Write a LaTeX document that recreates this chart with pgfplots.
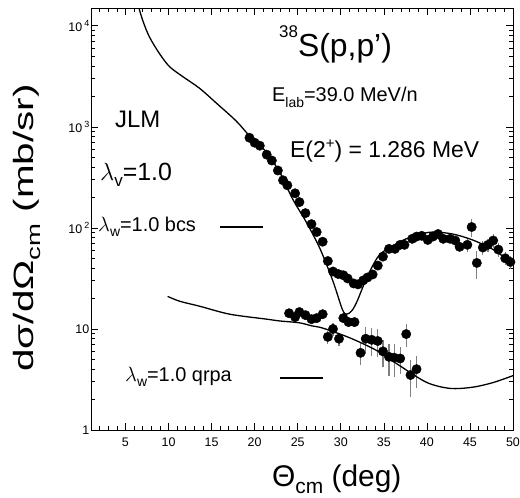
\documentclass[border=0pt]{standalone}
\usepackage{pgfplots}
\pgfplotsset{compat=1.18}
\usepackage{pgfplotstable}
\usepackage{fontspec}
\setmainfont{Liberation Sans}
\usepackage{graphicx}

\newcommand{\lsub}[3]{\raisebox{-#3}{\fontsize{#2}{#2}\selectfont #1}}
\newcommand{\lsup}[3]{\raisebox{#3}{\fontsize{#2}{#2}\selectfont #1}}

\pgfplotstableread{
x y e
19.4 780 0.06
20.0 697 0.06
20.6 651 0.06
21.4 531 0.06
22.0 464 0.06
22.7 370 0.06
23.3 296 0.06
23.8 264 0.06
24.7 220 0.06
25.2 180 0.06
25.9 140 0.06
26.6 109 0.06
27.2 91 0.06
27.9 73 0.06
28.5 47 0.06
29.1 37 0.06
29.7 35 0.06
30.3 34 0.06
30.8 31.6 0.06
31.5 28.2 0.06
32.0 27.6 0.06
32.6 30.2 0.06
33.1 32.3 0.06
33.7 34.6 0.06
34.3 42.4 0.06
34.9 52 0.06
35.6 62 0.06
36.3 62 0.06
36.9 68 0.06
37.4 68 0.06
38.3 78 0.06
38.8 82 0.06
39.4 83.5 0.06
40.1 76 0.08
40.7 82 0.08
41.3 87 0.08
41.9 78 0.08
42.7 78 0.08
43.3 75 0.1
43.8 65 0.12
44.7 68 0.15
45.2 102 0.2
45.8 45 0.3
46.5 64 0.15
47.1 68 0.15
47.7 75 0.15
48.3 61 0.15
49.1 50 0.15
49.7 46 0.15
}\upperdata

\pgfplotstableread{
x y e
24.0 14.3 0.08
24.7 13.1 0.08
25.2 14.7 0.08
25.9 13.7 0.08
26.6 12.5 0.08
27.2 12.8 0.08
27.9 14.0 0.08
28.5 8.35 0.15
29.1 10.0 0.15
29.8 8.0 0.15
30.3 12.8 0.1
30.9 11.7 0.1
31.6 11.7 0.1
32.3 5.8 0.25
32.9 8.0 0.3
33.6 7.8 0.3
34.3 7.6 0.3
34.9 6.0 0.3
35.6 5.3 0.35
36.2 5.2 0.35
36.9 5.1 0.3
37.6 8.9 0.25
38.1 3.5 0.4
38.8 4.0 0.35
}\lowerdata

\begin{document}
\begin{tikzpicture}
\begin{axis}[
  at={(0,0)}, anchor=south west,
  scale only axis, width=422bp, height=422bp,
  xmin=1, xmax=50, ymode=log, ymin=1, ymax=15000,
  xtick={5,10,...,50}, minor xtick={1,...,50},
  ytick={1,10,100,1000,10000},
  minor ytick={2,3,4,5,6,7,8,9,20,30,40,50,60,70,80,90,200,300,400,500,600,700,800,900,2000,3000,4000,5000,6000,7000,8000,9000},
  yticklabels={1,10,{10\,\lsup{2}{9}{5bp}},{10\,\lsup{3}{9}{5bp}},{10\,\lsup{4}{9}{5bp}}},
  /pgf/number format/assume math mode=true,
  ticklabel style={font=\fontsize{12.5}{12.5}\selectfont},
  yticklabel style={inner xsep=1.5bp},
  xticklabel style={yshift=-4bp},
  major tick length=7bp, minor tick length=4bp,
  tick style={black, line width=0.6bp},
  axis line style={line width=0.8bp},
]
\addplot[only marks, mark=none, forget plot,
  error bars/.cd, y dir=both, y explicit relative, error mark=none,
  error bar style={gray, line width=1.2bp}]
  table[x=x, y=y, y error=e] {\upperdata};
\addplot[only marks, mark=none, forget plot,
  error bars/.cd, y dir=both, y explicit relative, error mark=none,
  error bar style={gray, line width=1.2bp}]
  table[x=x, y=y, y error=e] {\lowerdata};

\addplot[smooth, tension=0.5, line width=1.3bp, black] coordinates {
(6.0,21800) (6.43,16440) (7.01,11270) (7.79,7740) (8.95,5310) (10.12,3940)
(11.66,3140) (13.6,2410) (15.55,1720) (17.87,1140) (19.42,811)
(21.0,610) (22.0,470) (23.0,345) (24.4,194) (26.0,114) (27.6,62)
(29.1,29.6) (30.2,15.5) (30.7,14) (31.3,15.2) (31.9,18.8) (33.0,31.6)
(34.5,54) (36.9,73) (38.8,85) (40.7,91) (43.0,87) (45.3,76) (47.7,61) (50,44)
};
\addplot[smooth, tension=0.5, line width=1.3bp, black] coordinates {
(9.9,21) (11.3,18.8) (13.6,16.8) (17.1,14) (21.4,12.5) (22.9,12)
(25.2,11.5) (26.7,10.7) (27.9,10.2) (31.0,8.2) (34.2,6.1) (36.9,4.3)
(40.0,2.95) (42.7,2.58) (45.3,2.65) (47.7,2.95) (50,3.45)
};

\addplot[only marks, mark=*, mark size=4.7bp, black] table[x=x, y=y] {\upperdata};
\addplot[only marks, mark=*, mark size=4.7bp, black] table[x=x, y=y] {\lowerdata};
\end{axis}

% annotations (positions in bp relative to the axis box)
\node[anchor=base west, inner sep=0] at (188bp,373bp)
  {\lsup{38}{17}{19bp}\fontsize{32}{32}\selectfont S(p,p')};
\node[anchor=base west, inner sep=0] at (181bp,328bp)
  {\fontsize{20}{20}\selectfont E\lsub{lab}{14}{6bp}=39.0 MeV/n};
\node[anchor=base west, inner sep=0] at (199bp,272bp)
  {\fontsize{23}{23}\selectfont E(2\lsup{+}{15}{9bp}) = 1.286 MeV};
\node[anchor=base west, inner sep=0] at (24bp,302bp)
  {\fontsize{24}{24}\selectfont JLM};
\node[anchor=base west, inner sep=0] at (9bp,249bp)
  {\fontsize{25}{25}\selectfont $\lambda$\lsub{v}{17}{6bp}=1.0};
\node[anchor=base west, inner sep=0] at (7bp,198bp)
  {\fontsize{20}{20}\selectfont $\lambda$\lsub{w}{14}{5bp}=1.0 bcs};
\draw[line width=1.3bp] (129bp,203bp) -- (172bp,203bp);
\node[anchor=base west, inner sep=0] at (34bp,48bp)
  {\fontsize{20}{20}\selectfont $\lambda$\lsub{w}{14}{5bp}=1.0 qrpa};
\draw[line width=1.3bp] (189bp,52bp) -- (232bp,52bp);

\node[anchor=base west, inner sep=0] at (181bp,-56bp)
  {\fontsize{30}{30}\selectfont Θ\lsub{cm}{21}{7bp} (deg)};
\node[rotate=90, anchor=center, inner sep=0] at (-64bp,202bp)
  {\scalebox{1.45}[1]{\fontsize{28}{28}\selectfont dσ/dΩ\lsub{cm}{19}{7bp} (mb/sr)}};

\pgfresetboundingbox
\path[use as bounding box] (-91bp,-68bp) rectangle (429bp,430bp);
\end{tikzpicture}
\end{document}
